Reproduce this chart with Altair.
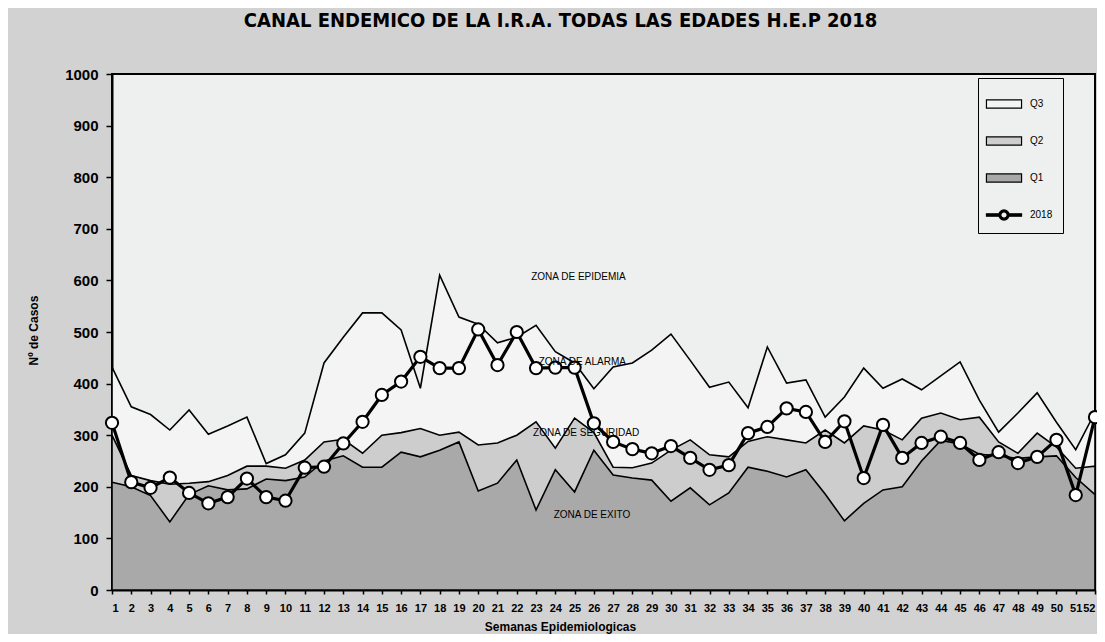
import altair as alt
import pandas as pd

weeks = list(range(1, 53))

q3 = [432, 355, 340, 310, 349, 302, 318, 335, 245, 262,
      304, 440, 490, 537, 537, 504, 391, 610, 529, 515,
      479, 490, 513, 462, 440, 390, 432, 440, 465, 496,
      445, 393, 403, 353, 471, 401, 407, 335, 374, 430,
      391, 409, 388, 415, 442, 368, 306, 343, 382, 325,
      272, 344]

q2 = [300, 222, 212, 205, 207, 210, 222, 240, 240, 236,
      252, 287, 292, 265, 300, 305, 313, 300, 306, 281,
      285, 300, 326, 275, 333, 305, 238, 237, 246, 271,
      291, 262, 258, 288, 297, 291, 285, 310, 285, 318,
      310, 291, 333, 343, 330, 335, 287, 265, 304, 277,
      236, 240]

q1 = [209, 200, 183, 132, 185, 202, 194, 196, 215, 212,
      219, 250, 260, 238, 238, 267, 258, 271, 287, 192,
      207, 252, 155, 233, 190, 271, 223, 217, 213, 172,
      198, 165, 188, 238, 230, 219, 233, 186, 134, 168,
      194, 200, 250, 290, 283, 263, 260, 255, 258, 260,
      218, 185]

y2018 = [324, 209, 198, 218, 188, 168, 180, 216, 180, 173,
         237, 239, 284, 326, 378, 404, 452, 430, 430, 505,
         436, 500, 430, 431, 431, 323, 287, 273, 265, 279,
         256, 233, 242, 304, 316, 352, 345, 287, 327, 217,
         320, 256, 285, 297, 285, 252, 267, 246, 258, 291,
         184, 335]

series_names = ["Q3", "Q2", "Q1", "2018"]
series_fills = ["#f3f4f3", "#cdcdcd", "#a9a9a9", "#000000"]
series_strokes = ["#000000", "#000000", "#000000", "#000000"]

y_ticks = list(range(0, 1001, 100))

zone_text = ["ZONA DE EPIDEMIA", "ZONA DE ALARMA", "ZONA DE SEGURIDAD", "ZONA DE EXITO"]
zone_week = [25.2, 25.4, 25.6, 25.9]
zone_value = [607, 442, 304, 145]

title_text = "CANAL ENDEMICO DE LA I.R.A. TODAS LAS EDADES H.E.P 2018"

rows = []
for name, vals in zip(series_names, [q3, q2, q1, y2018]):
    for w, v in zip(weeks, vals):
        rows.append({"semana": w, "casos": v, "serie": name})
df = pd.DataFrame(rows)
zones = pd.DataFrame({"texto": zone_text, "semana": zone_week, "casos": zone_value})

NARROW = "Liberation Sans Narrow, DejaVu Sans Condensed, Arial Narrow, sans-serif"
SANS = "Liberation Sans, Arial, sans-serif"

RECT = "M-1.17,-0.27H1.17V0.27H-1.17Z"
# thick line with an open ring in the middle (filled shapes, so no stroke is needed)
LINE_RING = (
    "M-1.17,-0.08H-0.3V0.08H-1.17Z"
    "M0.3,-0.08H1.17V0.08H0.3Z"
    "M-0.34,0A0.34,0.34 0 1 1 0.34,0A0.34,0.34 0 1 1 -0.34,0Z"
    "M-0.21,0A0.21,0.21 0 1 0 0.21,0A0.21,0.21 0 1 0 -0.21,0Z"
)
legend_shapes = [RECT, RECT, RECT, LINE_RING]

x_axis = alt.Axis(
    values=weeks, format="d", labelAngle=0, labelFlush=True, labelOverlap=False,
    labelSeparation=0, labelBound=False,
    labelFontSize=11, labelFontWeight="bold", labelFont=SANS,
    tickSize=4, labelPadding=8, grid=False,
    title="Semanas Epidemiologicas", titleFontSize=12, titleFontWeight="bold",
    titleFont=SANS, titleX=448, titleY=36, titleBaseline="middle", titleAlign="center",
)
x_enc = alt.X(
    "semana:Q",
    scale=alt.Scale(domain=[1, 52], nice=False, zero=False),
    axis=x_axis,
)
y_enc = alt.Y(
    "casos:Q",
    stack=None,
    scale=alt.Scale(domain=[0, 1000], nice=False),
    axis=alt.Axis(
        values=y_ticks, format="d", labelFlush=False,
        labelFontSize=15, labelFontWeight="bold", labelFont=SANS,
        tickSize=6, labelPadding=8, grid=False,
        title="Nº de Casos", titleFontSize=12, titleFontWeight="bold", titleFont=SANS,
        titleX=-79, titleY=256, titleAngle=-90, titleAlign="center", titleBaseline="middle",
    ),
)

legend = alt.Legend(
    title=None, orient="none", legendX=866, legendY=4,
    strokeColor="black", fillColor="#eef0ef", padding=10, rowPadding=14,
    symbolSize=900, symbolOpacity=1, symbolStrokeWidth=1.2,
    labelFont=SANS, labelFontSize=10, labelColor="black", labelOffset=10,
)

fill_enc = alt.Fill("serie:N", scale=alt.Scale(domain=series_names, range=series_fills), legend=legend)
shape_enc = alt.Shape("serie:N", scale=alt.Scale(domain=series_names, range=legend_shapes), legend=legend)
stroke_enc = alt.Stroke("serie:N", scale=alt.Scale(domain=series_names, range=series_strokes), legend=legend)

base = alt.Chart(df)


def area(name):
    return base.transform_filter(alt.datum.serie == name).mark_area(
        stroke="black", strokeWidth=1.6
    ).encode(x=x_enc, y=y_enc, fill=fill_enc)


line_2018 = base.transform_filter(alt.datum.serie == "2018").mark_line(
    color="black", strokeWidth=3.2
).encode(x=x_enc, y=y_enc)

pts_2018 = base.transform_filter(alt.datum.serie == "2018").mark_point(
    shape="circle", filled=True, fill="white", stroke="black", strokeWidth=2,
    size=150, opacity=1
).encode(x=x_enc, y=y_enc)

# invisible layer that only feeds the legend (one row per series, week 1)
legend_layer = base.transform_filter(alt.datum.semana == 1).mark_point(
    filled=True, opacity=0
).encode(x=x_enc, y=y_enc, fill=fill_enc, shape=shape_enc, stroke=stroke_enc)

zone_labels = alt.Chart(zones).mark_text(
    font=SANS, fontSize=10, color="black", align="center", baseline="middle"
).encode(x=x_enc, y=y_enc, text="texto:N")

chart = alt.layer(
    legend_layer, area("Q3"), area("Q2"), area("Q1"), line_2018, pts_2018,
    zone_labels
).properties(
    width=983, height=516,
    title=alt.TitleParams(
        text=title_text, anchor="middle", dx=-43, offset=36,
        font=NARROW, fontSize=20, fontWeight="bold", color="black",
    ),
    autosize=alt.AutoSizeParams(type="none"),
    padding={"left": 104, "top": 66, "right": 2, "bottom": 44},
).configure(
    background="#d2d2d2"
).configure_view(
    stroke="black", strokeWidth=2, fill="#eef0ef"
).configure_axis(
    domainColor="black", domainWidth=2, tickColor="black", tickWidth=1.5,
    labelColor="black", titleColor="black", labelOverlap=False,
)

chart.save("out.html", embed_options={"renderer": "svg", "actions": False})
